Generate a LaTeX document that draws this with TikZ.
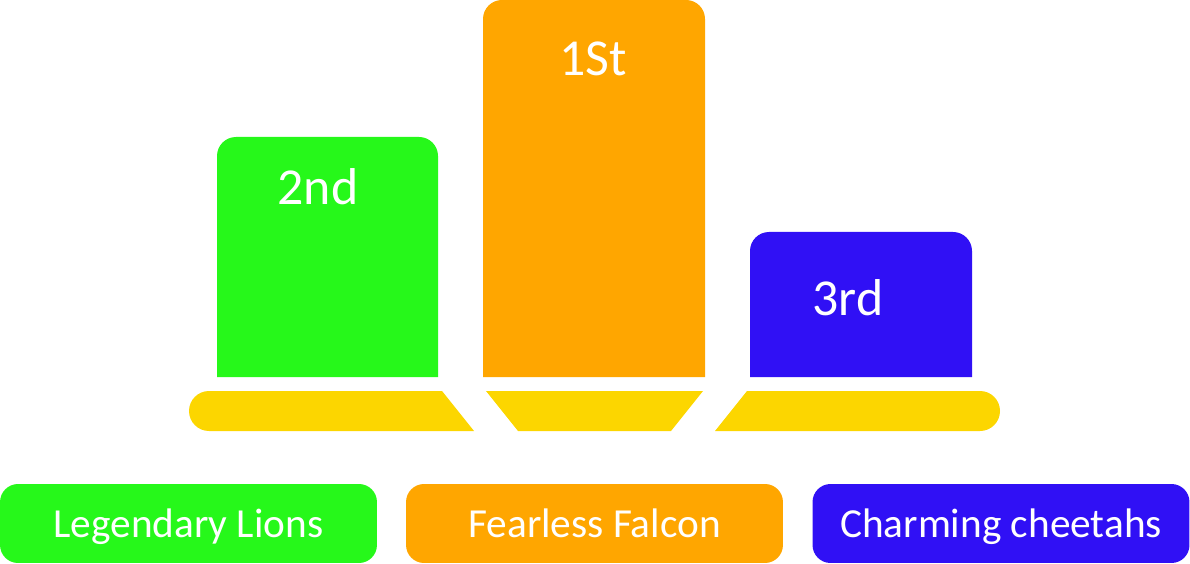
\documentclass[tikz,border=0pt]{standalone}
\usepackage{fontspec}
\setmainfont{Carlito}
\definecolor{lionsgreen}{RGB}{38,248,26}
\definecolor{falconorange}{RGB}{255,166,0}
\definecolor{cheetahblue}{RGB}{48,16,245}
\definecolor{podiumgold}{RGB}{252,214,0}

\begin{document}
\begin{tikzpicture}[x=0.02cm, y=-0.02cm,
    placelabel/.style={text=white, inner sep=0pt, anchor=base, font=\fontsize{29.5}{33}\selectfont},
    teambox/.style={text=white, inner sep=0pt, rounded corners=0.36cm, minimum width=7.54cm, minimum height=1.58cm,
        text height=0.54cm, text depth=0cm, font=\fontsize{23.5}{27}\selectfont}]
    \useasboundingbox (0,0) rectangle (1190,564);
    % podium blocks
    \foreach \l/\r/\t/\c in {217/438/137/lionsgreen, 483/705/0/falconorange, 750/972/232/cheetahblue} {
        \fill[\c] (\l,377) [rounded corners=0.38cm] -- (\l,\t) -- (\r,\t) [sharp corners] -- (\r,377) -- cycle;
    }
    % gold base
    \fill[podiumgold] (474,431) [rounded corners=0.4cm] -- (189,431) -- (189,391) [sharp corners] -- (442,391) -- cycle;
    \fill[podiumgold] (486,391) -- (703,391) -- (671,431) -- (518,431) -- cycle;
    \fill[podiumgold] (715,431) -- (747,391) [rounded corners=0.4cm] -- (1000,391) -- (1000,431) [sharp corners] -- cycle;
    \node[placelabel] (second) at (318,205) {2nd};
    \node[placelabel] (first) at (593,76) {1St};
    \node[placelabel] (third) at (848,316) {3rd};
    \node[teambox, fill=lionsgreen] (lions) at (188.5,523.5) {Legendary Lions};
    \node[teambox, fill=falconorange] (falcon) at (594.5,523.5) {Fearless Falcon};
    \node[teambox, fill=cheetahblue] (cheetahs) at (1001,523.5) {Charming cheetahs};
\end{tikzpicture}
\end{document}
